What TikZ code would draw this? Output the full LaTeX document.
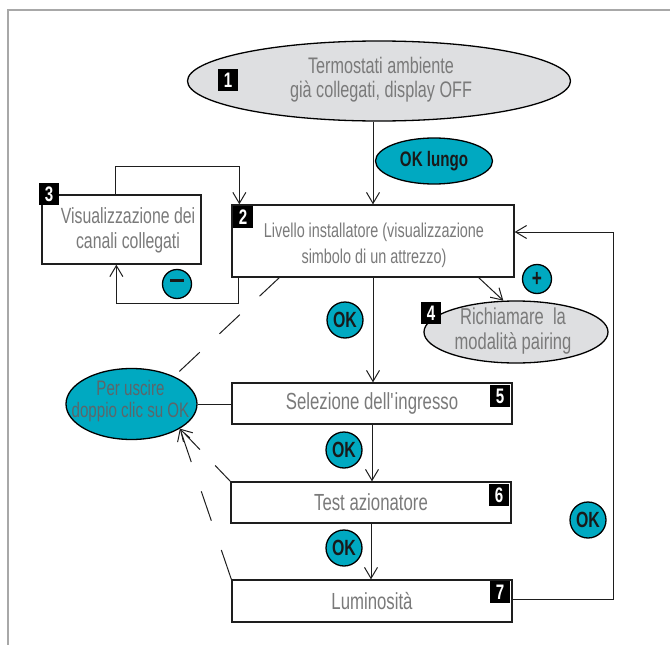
\documentclass[tikz,border=0pt]{standalone}
\usepackage{fontspec}
\setmainfont{Liberation Sans}[FakeStretch=0.72]
\usetikzlibrary{arrows.meta,shapes.geometric}

\definecolor{okteal}{HTML}{00A9C1}
\definecolor{softgray}{HTML}{DEDFE1}
\definecolor{txtgray}{HTML}{7A7A7A}
\definecolor{exitgray}{HTML}{5C666A}
\definecolor{linecol}{HTML}{1E1E1E}
\definecolor{framegray}{HTML}{A8A8A8}

\newcommand\fsz[2]{\fontsize{#1}{#2}\selectfont}

\tikzset{
  stepbox/.style={draw=linecol, line width=1.3pt, fill=white, text=txtgray,
    align=center, inner sep=0pt},
  softell/.style={ellipse, draw=black, line width=1.3pt, fill=softgray,
    inner sep=0pt},
  caption/.style={text=txtgray, align=center, inner sep=0pt},
  numlab/.style={fill=black, text=white, font=\fsz{21}{21}\bfseries,
    inner sep=0pt, minimum width=20pt, minimum height=22pt},
  okbtn/.style={circle, draw=black, line width=1.3pt, fill=okteal,
    text=black!90, font=\fsz{22}{22}\bfseries, inner sep=0pt,
    minimum size=36pt},
  signbtn/.style={okbtn, minimum size=29pt},
  arr/.style={draw=linecol, line width=1pt,
    -{Straight Barb[length=11pt,width=13pt,line width=1pt]}},
  link/.style={draw=linecol, line width=1pt},
}

\begin{document}
\begin{tikzpicture}[x=1pt,y=-1pt]
\useasboundingbox (0,0) rectangle (670,645);

% page frame
\draw[framegray, line width=1.4pt] (8,645) -- (8,10) -- (670,10);

% start state
\node[softell, minimum width=383pt, minimum height=80pt] (e1) at (379,81) {};
\node[caption, font=\fsz{22.5}{24}] (t1) at (381,80)
  {Termostati ambiente\\già collegati, display OFF};
\node[numlab] (n1) at (228,80) {1};

% long press button
\node[ellipse, draw=black, line width=1.3pt, fill=okteal,
  minimum width=117pt, minimum height=46pt, inner sep=0pt] (lungo) at (434,161) {};
\node[text=black!90, font=\fsz{21}{21}\bfseries, inner sep=0pt] (tl) at (434,161)
  {OK lungo};

% installer level
\node[stepbox, minimum width=282pt, minimum height=72pt] (b2) at (373,241) {};
\node[caption, font=\fsz{20}{26}] (t2) at (374,245)
  {Livello installatore (visualizzazione\\simbolo di un attrezzo)};
\node[numlab] (n2) at (243,217) {2};

% connected channels
\node[stepbox, minimum width=159pt, minimum height=69pt] (b3) at (121.5,229.5) {};
\node[caption, font=\fsz{22}{25}] (t3) at (128,230)
  {Visualizzazione dei\\canali collegati};
\node[numlab] (n3) at (49,194) {3};

% pairing
\node[softell, minimum width=184pt, minimum height=62pt] (e4) at (516,332) {};
\node[caption, font=\fsz{23}{25}] (t4) at (513,331)
  {Richiamare\ \ la\\modalità pairing};
\node[numlab] (n4) at (431,313) {4};

% exit hint
\node[ellipse, draw=black, line width=1.3pt, fill=okteal,
  minimum width=131pt, minimum height=71pt, inner sep=0pt] (pu) at (131.5,404) {};
\node[caption, text=exitgray, font=\fsz{21}{22.5}] (tp) at (130.5,401)
  {Per uscire\\doppio clic su OK};

% menu steps
\node[stepbox, font=\fsz{23.3}{25}, minimum width=280pt, minimum height=41pt]
  (b5) at (372,403.5) {Selezione dell\textquotesingle ingresso};
\node[numlab] (n5) at (500,396) {5};
\node[stepbox, font=\fsz{23.3}{25}, minimum width=280pt, minimum height=41pt]
  (b6) at (371,502.5) {Test azionatore};
\node[numlab] (n6) at (499,495) {6};
\node[stepbox, font=\fsz{23.3}{25}, minimum width=280pt, minimum height=42pt]
  (b7) at (372,601) {Luminosità};
\node[numlab] (n7) at (500,592) {7};

% buttons
\node[okbtn] (ok1) at (345,320) {OK};
\node[okbtn] (ok2) at (344,450) {OK};
\node[okbtn] (ok3) at (344,548) {OK};
\node[okbtn] (ok4) at (588,520) {OK};
\node[signbtn] (minus) at (177,284) {\rule[0.28em]{0.6em}{0.14em}};
\node[signbtn, font=\fsz{24}{24}\bfseries] (plus) at (537,279) {+};

% main flow
\draw[arr] (b2.north |- e1.south) -- (b2.north);
\draw[arr] (b2.south) -- (b2.south |- b5.north);
\draw[arr] (b5.south) -- (b5.south |- b6.north);
\draw[arr] (b6.south) -- (b6.south |- b7.north);

% loop between installer level and channel view
\draw[arr] ([xshift=74pt]b3.north west) -- ++(0,-28) -| ([xshift=8pt]b2.north west);
\draw[arr] ([xshift=7pt]b2.south west) -- ++(0,26) -| ([xshift=75pt]b3.south west);

% to pairing
\coordinate (p2) at (478,277);
\draw[arr] (p2) -- (e4.112);

% back from brightness to installer level
\draw[arr] ([yshift=2pt]b7.east) -- ++(101,0) |- ([yshift=9pt]b2.east);

% exit paths
\draw[link] (pu.east) -- (pu.east -| b5.west);
\coordinate (d2) at (280,277);
\draw[link, dash pattern=on 28pt off 27pt] (d2) -- (pu.33);
\draw[arr, dash pattern=on 22pt off 22pt] (b6.north west) -- (pu.-27);
\draw[arr, dash pattern=on 31pt off 31pt] (b7.north west) -- (pu.-27);
\end{tikzpicture}
\end{document}
